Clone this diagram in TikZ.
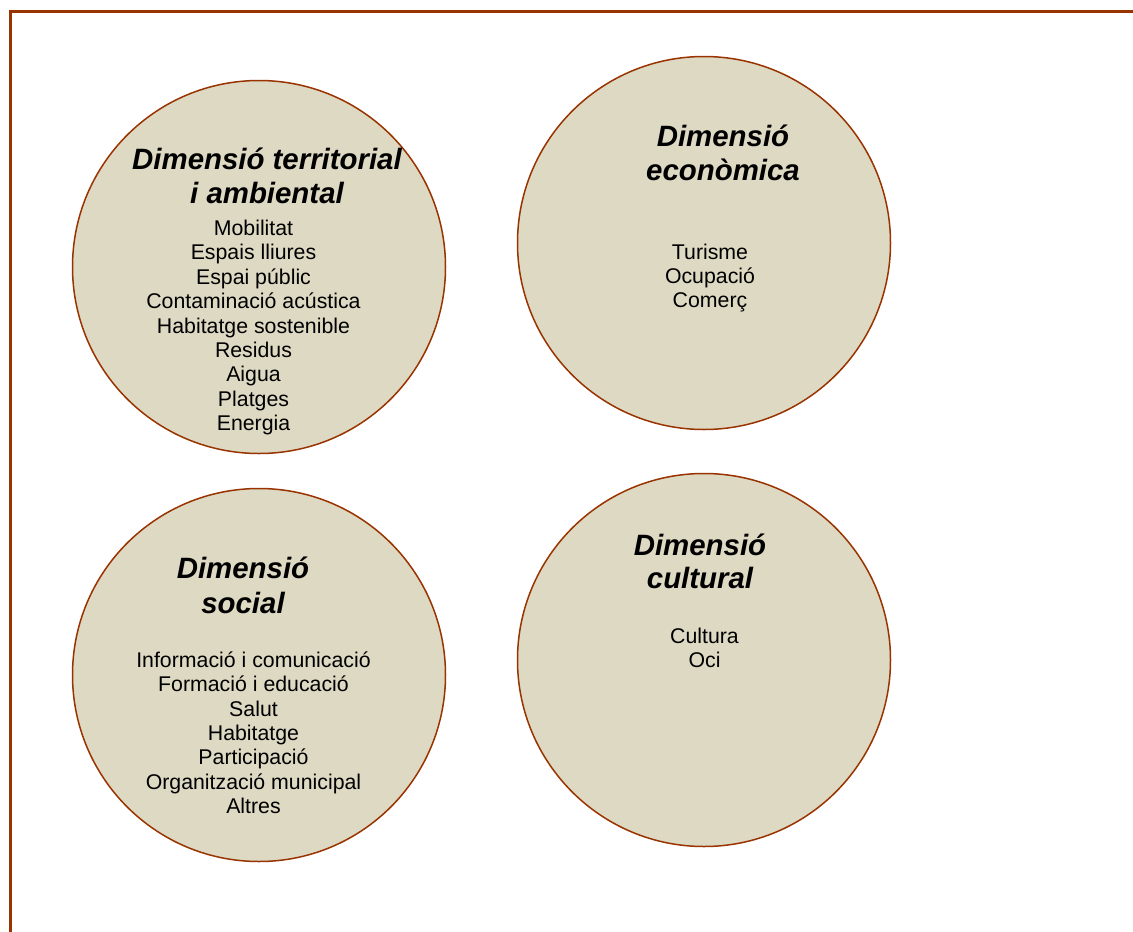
\documentclass[tikz,border=0pt]{standalone}
\usepackage{fontspec}
\setmainfont{Liberation Sans}
\definecolor{rim}{HTML}{993300}
\definecolor{dimfill}{HTML}{DDD9C3}
\newcommand{\titlefont}{\fontsize{29.4}{34}\selectfont\bfseries\itshape}
\newcommand{\itemfont}{\fontsize{21.3}{24.4}\selectfont}

\begin{document}
\begin{tikzpicture}[x=1pt,y=-1pt,
  dim/.style={circle,draw=rim,fill=dimfill,line width=1.5pt,minimum size=373pt,inner sep=0pt},
  head/.style={anchor=base,inner sep=0pt,font=\titlefont},
  item/.style={anchor=base,inner sep=0pt,font=\itemfont}]
\useasboundingbox (0,0) rectangle (1133,932);
\draw [rim,line width=3pt] (10,932) -- (10,11.5) -- (1133,11.5);
% the four dimensions
\node (terr) at (259,267) [dim] {};
\node (econ) at (704,243) [dim] {};
\node (soc) at (259,675) [dim] {};
\node (cult) at (704,660) [dim] {};
% territorial
\node (terr-h1) at (267,169.5) [head] {Dimensió territorial};
\node (terr-h2) at (267,203.5) [head] {i ambiental};
\foreach \t [count=\i] in {Mobilitat,Espais lliures,Espai públic,Contaminació acústica,Habitatge sostenible,Residus,Aigua,Platges,Energia}
  \node (terr-\i) at (253.5,{211.1+24.4*\i}) [item] {\t};
% economica
\node (econ-h1) at (723,146.5) [head] {Dimensió};
\node (econ-h2) at (723,180.5) [head] {econòmica};
\foreach \t [count=\i] in {Turisme,Ocupació,Comerç}
  \node (econ-\i) at (710,{235.3+24.2*\i}) [item] {\t};
% social
\node (soc-h1) at (243,578.5) [head] {Dimensió};
\node (soc-h2) at (243,613) [head] {social};
\foreach \t [count=\i] in {Informació i comunicació,Formació i educació,Salut,Habitatge,Participació,Organització municipal,Altres}
  \node (soc-\i) at (253.5,{643.2+24.33*\i}) [item] {\t};
% cultural
\node (cult-h1) at (700,555.5) [head] {Dimensió};
\node (cult-h2) at (700,588.5) [head] {cultural};
\foreach \t [count=\i] in {Cultura,Oci}
  \node (cult-\i) at (704.5,{619.5+24*\i}) [item] {\t};
\end{tikzpicture}
\end{document}
